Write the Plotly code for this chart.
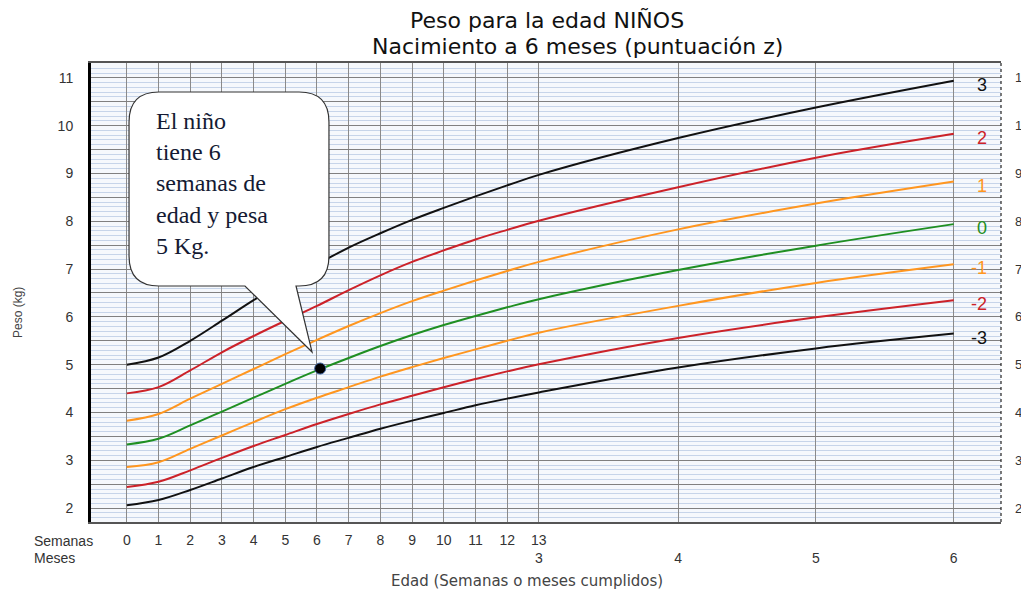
import plotly.graph_objects as go

# --- DATA ---
DAYS_PER_MONTH = 30.4375
weeks = list(range(14))                      # 0..13 weeks
months = [4, 5, 6]                           # monthly points after week 13
age_weeks = weeks + [m * DAYS_PER_MONTH / 7 for m in months]

z_p3 = [5.0, 5.15, 5.5, 5.92, 6.35, 6.75, 7.1, 7.45, 7.75, 8.03, 8.28, 8.52, 8.75, 8.97, 9.74, 10.38, 10.94]
z_p2 = [4.4, 4.53, 4.88, 5.26, 5.6, 5.92, 6.23, 6.56, 6.87, 7.15, 7.39, 7.62, 7.82, 8.01, 8.71, 9.33, 9.83]
z_p1 = [3.83, 3.97, 4.29, 4.6, 4.91, 5.22, 5.52, 5.81, 6.08, 6.33, 6.55, 6.76, 6.96, 7.15, 7.83, 8.37, 8.83]
z_0 = [3.33, 3.45, 3.73, 4.02, 4.31, 4.6, 4.88, 5.14, 5.39, 5.62, 5.83, 6.02, 6.2, 6.37, 6.98, 7.49, 7.94]
z_m1 = [2.86, 2.96, 3.24, 3.52, 3.8, 4.07, 4.31, 4.53, 4.75, 4.95, 5.14, 5.32, 5.5, 5.67, 6.23, 6.71, 7.1]
z_m2 = [2.44, 2.55, 2.79, 3.05, 3.3, 3.53, 3.76, 3.97, 4.17, 4.35, 4.53, 4.7, 4.86, 5.01, 5.56, 5.99, 6.35]
z_m3 = [2.06, 2.17, 2.38, 2.62, 2.86, 3.07, 3.28, 3.47, 3.66, 3.83, 3.99, 4.15, 4.29, 4.42, 4.94, 5.34, 5.65]

z_labels = ["3", "2", "1", "0", "-1", "-2", "-3"]
child_weeks = [6.1]
child_kg = [4.92]

week_ticks = [str(w) for w in weeks]
month_ticks = ["3", "4", "5", "6"]
kg_ticks = list(range(2, 12))

# --- STYLE ---
BLACK = "#111111"
RED = "#cc2229"
ORANGE = "#ff961f"
GREEN = "#1f8f22"
curve_colors = [BLACK, RED, ORANGE, GREEN, ORANGE, RED, BLACK]
FONT = "Liberation Sans, Arial, sans-serif"
TITLE_FONT = "DejaVu Sans, sans-serif"

OFF = 8                                   # page body margin, figure is drawn 8px in
W, H = 1029 - OFF, 593 - OFF
L, R, T, B = 91, 1001, 63, 522            # plot area, in page pixels
X_RANGE = [-1.13, 27.58]
Y_RANGE = [1.71, 11.31]

fig = go.Figure()

for vals, col in zip([z_p3, z_p2, z_p1, z_0, z_m1, z_m2, z_m3], curve_colors):
    fig.add_trace(go.Scatter(x=age_weeks, y=vals, mode="lines",
                             line=dict(color=col, width=2, shape="spline", smoothing=1.0),
                             hoverinfo="skip"))

fig.add_trace(go.Scatter(x=child_weeks, y=child_kg, mode="markers",
                         marker=dict(color="black", size=11, line=dict(color="#3a5f9a", width=1)),
                         hoverinfo="skip"))

# invisible trace so the right-hand kg axis gets drawn
fig.add_trace(go.Scatter(x=child_weeks, y=child_kg, yaxis="y2", mode="markers",
                         marker=dict(opacity=0), hoverinfo="skip"))

# z-score labels at right end of each curve
ends = [z_p3[-1], z_p2[-1], z_p1[-1], z_0[-1], z_m1[-1], z_m2[-1], z_m3[-1]]
for lab, yv, col in zip(z_labels, ends, curve_colors):
    fig.add_annotation(x=age_weeks[-1] + 1.1, y=yv, text=lab, showarrow=False,
                       xanchor="right", yanchor="middle", yshift=-4,
                       font=dict(family=FONT, size=18, color=col))

# x tick labels: weeks row plus months row
tickvals = age_weeks[:]
ticktext = week_ticks[:-1] + [week_ticks[-1] + "<br>" + month_ticks[0]] + ["<br>" + m for m in month_ticks[1:]]

# y ticks every 0.5 kg (gridlines), labels on whole kg only
y_major = [v / 2 for v in range(4, 23)]
y_text = [str(int(v)) if v == int(v) else "" for v in y_major]


def px(xp, yp):
    return (xp - L) / (R - L), (B - yp) / (B - T)


def bubble_path(pts):
    out = []
    for cmd, coords in pts:
        s = cmd
        for (a, b) in coords:
            u, v = px(a, b)
            s += " %.4f,%.4f" % (u, v)
        out.append(s)
    return " ".join(out) + " Z"


r = 30
x0, x1, y0, y1 = 129, 329, 92, 286
path = bubble_path([
    ("M", [(x0 + r, y0)]),
    ("L", [(x1 - r, y0)]),
    ("Q", [(x1, y0), (x1, y0 + r)]),
    ("L", [(x1, y1 - r)]),
    ("Q", [(x1, y1), (x1 - r, y1)]),
    ("L", [(296, y1)]),
    ("L", [(312, 352)]),
    ("L", [(245, y1)]),
    ("L", [(x0 + r, y1)]),
    ("Q", [(x0, y1), (x0, y1 - r)]),
    ("L", [(x0, y0 + r)]),
    ("Q", [(x0, y0), (x0 + r, y0)]),
])
fig.add_shape(type="path", path=path, xref="paper", yref="paper",
              fillcolor="white", line=dict(color="#333333", width=1.2), layer="above")

bx, by = px(154, 106)
fig.add_annotation(xref="paper", yref="paper", x=bx, y=by, xanchor="left", yanchor="top",
                   align="left", showarrow=False,
                   text="El niño<br>tiene 6<br>semanas de<br>edad y pesa<br>5 Kg.",
                   font=dict(family="Liberation Serif, Times New Roman, serif", size=24, color="#141a33"))

# right border (dotted)
fig.add_shape(type="line", xref="paper", yref="paper", x0=1, x1=1, y0=0, y1=1,
              line=dict(color="#222222", width=1.2, dash="dot"), layer="above")


def label(xp, yp, text, size, color="#333", family=FONT, xanchor="center", angle=0):
    u, v = px(xp, yp)
    fig.add_annotation(xref="paper", yref="paper", x=u, y=v, text=text, textangle=angle,
                       xanchor=xanchor, yanchor="middle", showarrow=False,
                       font=dict(family=family, size=size, color=color))


# titles and axis labels
label(547, 20, "Peso para la edad NIÑOS", 22, "#111", TITLE_FONT)
label(577, 47, "Nacimiento a 6 meses (puntuación z)", 22, "#111", TITLE_FONT)
label(527, 581, "Edad (Semanas o meses cumplidos)", 15, "#444", TITLE_FONT)
label(18, 313, "Peso (kg)", 12, "#444", angle=-90)
label(32, 541, "Semanas", 14, xanchor="left")
label(32, 558, "Meses", 14, xanchor="left")

fig.update_layout(
    width=W, height=H,
    margin=dict(l=L - OFF, r=W + OFF - R, t=T - OFF, b=H + OFF - B, autoexpand=False),
    paper_bgcolor="white", plot_bgcolor="#f5f8fc",
    showlegend=False, hovermode=False,
    xaxis=dict(range=X_RANGE, tickmode="array", tickvals=tickvals, ticktext=ticktext,
               showgrid=True, gridcolor="#8a8a8a", gridwidth=1.2, zeroline=False,
               showline=True, linecolor="#555555", linewidth=2, mirror=True,
               ticks="", ticklabelstandoff=4, automargin=False,
               tickfont=dict(family=FONT, size=14, color="#333")),
    yaxis=dict(range=Y_RANGE, tickmode="array", tickvals=y_major, ticktext=y_text,
               showgrid=True, gridcolor="#808080", gridwidth=1.2, zeroline=False,
               showline=True, linecolor="black", linewidth=3,
               ticks="", ticklabelstandoff=12, automargin=False,
               tickfont=dict(family=FONT, size=14, color="#333"),
               minor=dict(tick0=0, dtick=0.1, showgrid=True, gridcolor="#c6d4e9", gridwidth=1)),
    yaxis2=dict(range=Y_RANGE, overlaying="y", side="right", tickmode="array",
                tickvals=kg_ticks, ticktext=[str(k) for k in kg_ticks],
                showgrid=False, zeroline=False, showline=False, ticks="", ticklabelstandoff=13,
                automargin=False, ticklabeloverflow="allow",
                tickfont=dict(family=FONT, size=13, color="#333")),
)

fig.write_html("out.html")
